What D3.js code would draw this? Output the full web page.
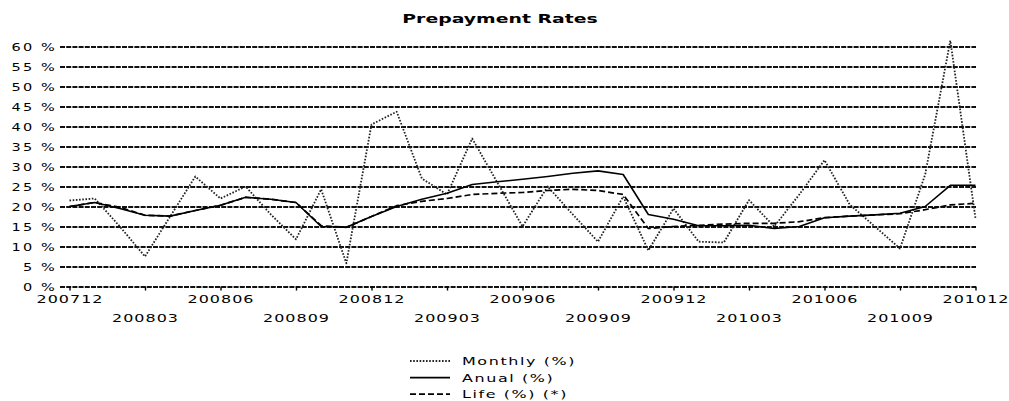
<!DOCTYPE html>
<html><head><meta charset="utf-8">
<script src="https://cdn.jsdelivr.net/npm/d3@7"></script>
<style>
body{margin:0;background:#fff}
text{font-family:"DejaVu Sans",sans-serif;fill:#000}
</style>
</head><body>
<svg id="c" width="1009" height="401"></svg>
<script>
const months = ["200712","200801","200802","200803","200804","200805","200806","200807","200808","200809","200810","200811","200812",
  "200901","200902","200903","200904","200905","200906","200907","200908","200909","200910","200911","200912",
  "201001","201002","201003","201004","201005","201006","201007","201008","201009","201010","201011","201012"];
const monthly = [21.5,22.0,15.0,7.5,17.5,27.5,22.0,25.0,18.0,11.8,24.3,5.8,40.5,
  43.7,27.0,23.0,37.0,26.0,15.0,25.0,18.0,11.2,22.5,9.0,19.5,
  11.2,11.0,21.6,15.0,23.0,31.6,20.5,15.0,9.5,28.0,61.5,17.0];
const anual = [20.0,21.0,19.5,17.8,17.6,19.0,20.3,22.3,21.8,21.0,15.0,14.8,17.5,
  20.0,21.8,23.3,25.5,26.2,26.8,27.5,28.3,28.9,28.0,18.0,16.8,
  15.2,15.2,15.3,14.5,15.0,17.2,17.6,17.9,18.3,20.0,25.3,25.3];
const life = [20.0,21.0,19.8,17.8,17.6,19.0,20.3,22.3,21.8,21.0,15.2,14.8,17.5,
  20.2,21.3,22.0,23.0,23.3,23.5,24.0,24.3,24.0,23.0,14.5,15.0,
  15.3,15.6,15.8,15.8,16.2,17.2,17.6,17.9,18.2,19.2,20.4,20.8];
const tickMonths = ["200712","200803","200806","200809","200812","200903","200906","200909","200912","201003","201006","201009","201012"];
const yTicks = [0,5,10,15,20,25,30,35,40,45,50,55,60];
const seriesNames = ["Monthly (%)","Anual (%)","Life (%) (*)"];

const SX = 1.45;
const svg = d3.select("#c");
const x = d3.scalePoint().domain(months).range([69.5, 975.5]);
const y = d3.scaleLinear().domain([0, 60]).range([286.5, 46.5]);

// title
svg.append("text")
  .attr("transform", `translate(500,22.5) scale(${SX},1)`)
  .attr("text-anchor", "middle")
  .style("font-size", "13px").style("font-weight", "bold")
  .text("Prepayment Rates");

// y axis with gridlines
const gy = svg.append("g").attr("transform", "translate(60,0)")
  .call(d3.axisLeft(y).tickValues(yTicks).tickSize(-916).tickPadding(0).tickFormat(d => d + " %"));
gy.select(".domain").remove();
gy.selectAll(".tick line").attr("stroke", "#111").attr("stroke-width", 1.8).attr("stroke-dasharray", "5,1.2");
gy.selectAll(".tick text")
  .attr("x", 0).attr("y", 0).attr("dy", 0)
  .attr("text-anchor", "end")
  .style("font-size", "10px").style("letter-spacing", "1.5px")
  .attr("transform", `translate(-3,3.6) scale(${SX},1)`);

// x axis
const gx = svg.append("g").attr("transform", "translate(0,286.5)")
  .call(d3.axisBottom(x).tickValues(tickMonths).tickSize(4).tickPadding(0));
gx.select(".domain").remove();
gx.selectAll(".tick line").attr("stroke", "#000").attr("stroke-width", 1.4);
gx.selectAll(".tick text")
  .attr("dy", 0)
  .attr("y", (d, i) => i % 2 === 0 ? 16.5 : 36)
  .attr("x", 0)
  .style("font-size", "11px").style("letter-spacing", "0.7px")
  .attr("transform", `scale(${SX},1)`);

// lines
const styles = [
  {data: monthly, dash: "1.6,1.6", color: "#222", w: 1.8},
  {data: anual, dash: null, color: "#000", w: 1.6},
  {data: life, dash: "6,3", color: "#000", w: 1.7}
];
const line = d3.line().x((d, i) => x(months[i])).y(d => y(d));
styles.forEach(s => {
  svg.append("path").datum(s.data)
    .attr("fill", "none").attr("stroke", s.color).attr("stroke-width", s.w)
    .attr("stroke-dasharray", s.dash).attr("stroke-linejoin", "round")
    .attr("d", line);
});

// legend
const lg = svg.append("g");
seriesNames.forEach((name, i) => {
  const ly = 361 + i * 16.6;
  lg.append("line").attr("x1", 410).attr("x2", 450).attr("y1", ly).attr("y2", ly)
    .attr("stroke", styles[i].color).attr("stroke-width", styles[i].w)
    .attr("stroke-dasharray", styles[i].dash);
  lg.append("text")
    .attr("transform", `translate(462,${ly + 4}) scale(${SX},1)`)
    .style("font-size", "11px").style("letter-spacing", "1.1px")
    .text(name);
});
</script>
</body></html>
